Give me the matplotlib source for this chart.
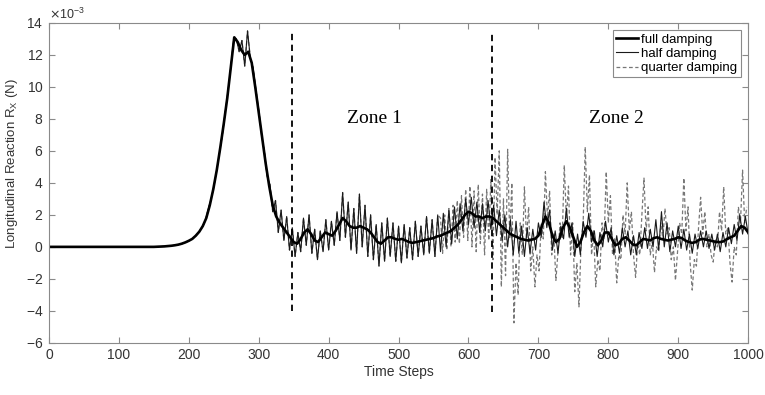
import matplotlib
matplotlib.use("Agg")
import matplotlib.pyplot as plt
from matplotlib.ticker import ScalarFormatter
import numpy as np

plt.rcParams['font.family'] = ['Liberation Sans', 'DejaVu Sans']
plt.rcParams['axes.unicode_minus'] = False

# longitudinal reaction, in units of 1e-3 N
# full damping: every 5 time steps from 0
full_start, full_step = 0, 5
rx_full = [0]*31 + [
    0.01, 0.02, 0.03, 0.05, 0.07, 0.1, 0.14, 0.2, 0.28, 0.38,
    0.5, 0.7, 0.95, 1.3, 1.8, 2.6, 3.6, 4.8, 6.2, 7.7,
    9.3, 11.2, 13.1, 12.8, 12.3, 12.0, 12.2, 11.5, 10.0, 8.4,
    6.8, 5.2, 3.8, 2.6, 1.9, 1.5, 1.2, 0.9, 0.6, 0.3,
    0.2, 0.5, 0.9, 1.1, 0.8, 0.4, 0.3, 0.6, 0.9, 0.8,
    0.7, 1.0, 1.4, 1.8, 1.6, 1.3, 1.2, 1.2, 1.3, 1.2,
    1.1, 0.9, 0.6, 0.3, 0.2, 0.4, 0.6, 0.6, 0.5, 0.45,
    0.5, 0.4, 0.3, 0.25, 0.3, 0.35, 0.4, 0.45, 0.5, 0.55,
    0.65, 0.7, 0.8, 0.9, 1.0, 1.2, 1.4, 1.7, 2.0, 2.2,
    2.1, 1.9, 1.9, 1.8, 1.9, 1.9, 1.8, 1.6, 1.4, 1.2,
    1.0, 0.8, 0.7, 0.6, 0.5, 0.45, 0.4, 0.45, 0.5, 0.7,
    1.3, 1.9, 1.5, 0.7, 0.3, 0.5, 1.2, 1.6, 1.2, 0.6,
    0.0, 0.3, 0.9, 1.3, 1.0, 0.4, 0.1, 0.4, 0.9, 0.9,
    0.5, 0.1, 0.2, 0.5, 0.6, 0.4, 0.15, 0.1, 0.3, 0.5,
    0.45, 0.4, 0.55, 0.6, 0.5, 0.45, 0.4, 0.45, 0.5, 0.6,
    0.55, 0.4, 0.3, 0.25, 0.3, 0.45, 0.5, 0.45, 0.4, 0.35,
    0.3, 0.3, 0.35, 0.5, 0.6, 0.7, 1.0, 1.3, 1.2, 0.9,
]

# half damping: every 4 time steps from 220 (identical to full before)
half_start, half_step = 220, 4
rx_half = [
    1.3, 1.7, 2.4, 3.0, 3.8, 4.8, 5.9, 7.0, 8.4, 9.7,
    11.2, 12.9, 13.0, 12.2, 12.9, 11.3, 13.5, 11.8, 11.2, 9.8,
    8.6, 7.0, 6.0, 4.4, 3.9, 2.2, 2.9, 0.9, 2.3, 0.4,
    1.9, -0.2, 1.2, -0.6, 0.9, -0.3, 1.8, 0.1, 2.0, -0.4,
    1.1, -0.8, 1.0, -0.3, 1.7, -0.2, 1.6, 0.1, 2.2, 0.4,
    3.4, 0.6, 2.8, -0.2, 2.4, -0.4, 3.3, 0.0, 2.6, -0.6,
    2.0, -0.8, 1.4, -1.2, 1.5, -0.9, 1.8, -0.6, 1.5, -0.9,
    1.3, -1.0, 1.4, -0.7, 1.2, -0.8, 1.6, -0.6, 1.3, -0.5,
    1.9, -0.4, 1.7, -0.6, 2.0, -0.3, 2.1, 0.0, 2.3, 0.2,
    2.5, 0.5, 2.7, 1.0, 3.0, 1.4, 3.1, 1.2, 2.8, 0.9,
    2.7, 1.0, 2.9, 1.1, 2.6, 0.7, 2.3, 0.4, 2.0, 0.0,
    1.7, -0.5, 1.6, -0.4, 1.3, -0.6, 1.2, -0.4, 1.1, -0.2,
    1.5, 0.6, 2.8, 1.2, 2.3, -0.2, 1.0, -0.4, 1.3, 0.5,
    2.4, 0.6, 1.5, -0.6, 0.8, -0.5, 1.6, 0.6, 2.1, 0.3,
    1.0, -0.6, 0.9, 0.0, 1.6, 0.3, 1.2, -0.5, 0.7, -0.4,
    1.2, 0.0, 1.0, -0.5, 0.7, -0.5, 0.9, -0.1, 1.2, -0.1,
    1.1, 0.0, 1.7, -0.2, 2.2, 0.0, 1.5, -0.3, 1.0, 0.0,
    1.3, -0.1, 1.1, -0.2, 0.8, -0.4, 0.8, -0.1, 1.0, 0.0,
    1.0, -0.1, 0.8, -0.2, 0.8, -0.3, 0.9, 0.0, 1.2, 0.2,
    1.4, 0.4, 2.0, 0.8, 1.9, 0.8,
]

# quarter damping: every 3 time steps from 560 (follows half damping before)
quarter_start, quarter_step = 560, 3
rx_quarter = [
    1.8, -0.4, 2.0, -0.2, 2.4, 0.0, 2.6, 0.3, 2.9, 0.2,
    3.2, 0.6, 3.6, 0.4, 3.8, 0.0, 3.5, -0.3, 3.9, 0.2,
    3.3, -0.5, 3.6, 0.4, 4.2, -0.8, 5.6, 2.0, 6.0, -2.5,
    3.0, -1.8, 6.1, 0.5, 4.0, -4.75, -1.0, -3.0, 1.5, -0.5,
    3.75, 0.5, 2.5, -1.5, 0.0, -2.5, -0.5, -1.5, 1.5, 0.5,
    4.7, 1.8, 3.5, -0.5, 0.8, -2.1, -0.3, 1.5, 0.5, 5.1,
    1.8, 3.8, -0.5, 1.5, -2.8, -1.0, -3.75, 0.2, 1.5, 6.25,
    2.2, 4.5, -0.5, 1.0, -2.5, -0.8, -1.5, 1.5, 0.5, 4.7,
    1.5, 3.2, -0.5, 0.5, -2.25, -0.5, -0.8, 2.0, 0.8, 4.0,
    1.0, 2.2, -0.5, -1.9, 0.2, -0.5, 2.0, 4.3, 1.0, 2.5,
    -0.5, 0.3, -1.6, 0.0, -0.3, 1.5, 0.5, 2.4, 0.8, 1.2,
    -0.8, 0.0, -2.1, -0.3, 1.5, 0.8, 4.3, 1.0, 2.5, -1.0,
    -2.7, -0.8, -1.2, 1.2, 3.1, 0.8, 2.2, 0.0, 0.8, -0.5,
    -0.95, 0.5, 0.0, 2.2, 1.0, 3.75, 0.8, 1.2, -1.0, -2.2,
    0.0, -0.5, 2.5, 1.5, 4.8, 1.5, 2.5,
]

zone_bounds = [347, 633]
zone_line_top = [13.4, 13.4]
zone_line_bottom = [-4.0, -4.1]
zone_labels = ["Zone 1", "Zone 2"]
zone_label_x = [466, 811]
zone_label_y = 8.0

t_full = full_start + full_step*np.arange(len(rx_full))
t_half_own = half_start + half_step*np.arange(len(rx_half))
t_q_own = quarter_start + quarter_step*np.arange(len(rx_quarter))

full = np.array(rx_full)*1e-3
pre = t_full < half_start
t_half = np.concatenate([t_full[pre], t_half_own])
half = np.concatenate([full[pre], np.array(rx_half)*1e-3])
preq = t_half < quarter_start
t_quarter = np.concatenate([t_half[preq], t_q_own])
quarter = np.concatenate([half[preq], np.array(rx_quarter)*1e-3])

fig = plt.figure(figsize=(7.65, 3.95), dpi=100)
ax = fig.add_axes([0.064, 0.132, 0.914, 0.810])

ax.plot(t_quarter, quarter, '--', color='#777777', lw=0.9, dashes=(3, 2), label='quarter damping')
ax.plot(t_half, half, '-', color='#1a1a1a', lw=0.8, label='half damping')
ax.plot(t_full, full, '-', color='black', lw=1.9, label='full damping')

ax.vlines(zone_bounds, np.array(zone_line_bottom)*1e-3, np.array(zone_line_top)*1e-3,
          colors='black', linestyles=(0, (3.5, 2.5)), lw=1.3)
for x, s in zip(zone_label_x, zone_labels):
    ax.text(x, zone_label_y*1e-3, s, family='Liberation Serif', fontsize=14,
            ha='center', va='center')

ax.set_xlim(0, 1000)
ax.set_ylim(-6e-3, 14e-3)
ax.set_xticks(np.arange(0, 1001, 100))
ax.set_yticks(np.arange(-6, 15, 2)*1e-3)
fmt = ScalarFormatter(useMathText=True)
fmt.set_powerlimits((-3, -3))
ax.yaxis.set_major_formatter(fmt)
ax.yaxis.get_offset_text().set_fontsize(9)
ax.yaxis.get_offset_text().set_color('#333333')

for s in ax.spines.values():
    s.set_color('#8a8a8a')
    s.set_linewidth(0.8)
ax.tick_params(direction='in', top=True, right=True, length=4, width=0.8,
               color='#8a8a8a', labelsize=10, labelcolor='#333333', pad=4)

ax.set_xlabel('Time Steps', fontsize=10, color='#333333', labelpad=2)
ax.set_ylabel('Longitudinal Reaction R$_\\mathregular{X}$ (N)', fontsize=9.5,
              color='#333333')
ax.yaxis.set_label_coords(-0.041, 0.56)

h, l = ax.get_legend_handles_labels()
leg = ax.legend(h[::-1], l[::-1], loc='upper right', fontsize=9.5, frameon=True,
                fancybox=False, framealpha=1, edgecolor='#8a8a8a',
                handlelength=1.6, handletextpad=0.3, labelspacing=0.15,
                borderpad=0.25, borderaxespad=0.55)
leg.get_frame().set_linewidth(0.8)

fig.savefig('out.png', dpi=100)
